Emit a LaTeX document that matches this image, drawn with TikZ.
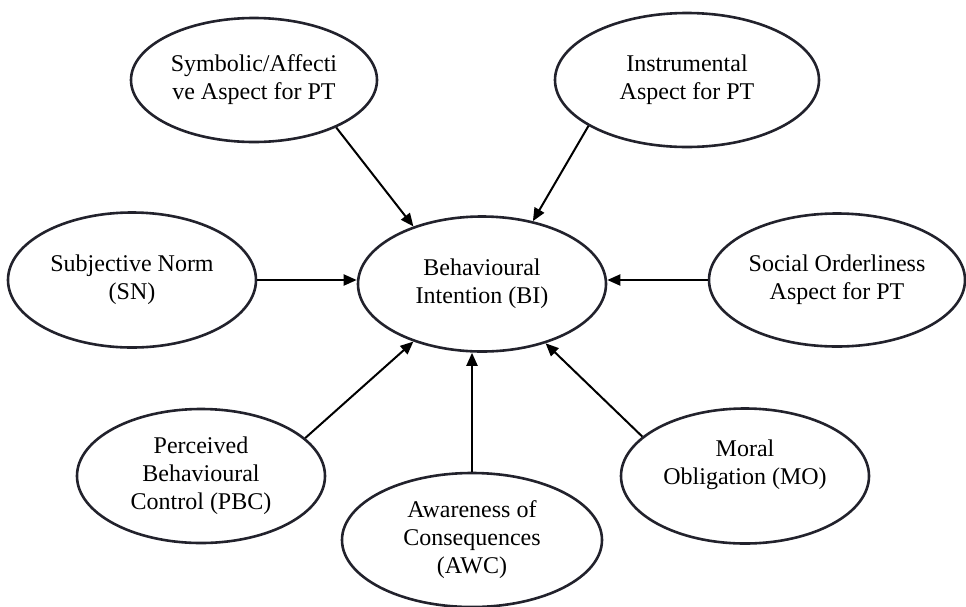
\documentclass[tikz,border=0pt]{standalone}
\usepackage{fontspec}
\setmainfont{Liberation Serif}
\usetikzlibrary{shapes.geometric,arrows.meta}
\definecolor{rim}{RGB}{34,34,44}
\begin{document}
\begin{tikzpicture}[x=1pt,y=-1pt,
  construct/.style={ellipse,draw=rim,line width=2.6pt,inner sep=0pt,
    align=center,font=\fontsize{24}{28}\selectfont},
  link/.style={line width=2pt,-{Triangle[length=13pt,width=11pt]}}]
\useasboundingbox (0,0) rectangle (966,606);

% constructs
\node[construct,minimum width=246pt,minimum height=124pt] (sym) at (254,80)
  {Symbolic/Affecti\\ve Aspect for PT};
\node[construct,minimum width=264pt,minimum height=134pt] (ins) at (687,80)
  {Instrumental\\Aspect for PT};
\node[construct,minimum width=248pt,minimum height=135pt] (sn) at (132,280)
  {Subjective Norm\\(SN)};
\node[construct,minimum width=248pt,minimum height=135pt] (bi) at (482,284)
  {Behavioural\\Intention (BI)};
\node[construct,minimum width=256pt,minimum height=133pt] (soc) at (837,280)
  {Social Orderliness\\Aspect for PT};
\node[construct,minimum width=248pt,minimum height=134pt] (pbc) at (201,476)
  {Perceived\\Behavioural\\Control (PBC)};
\node[construct,minimum width=260pt,minimum height=134pt] (awc) at (472,540)
  {Awareness of\\Consequences\\(AWC)};
\node[construct,minimum width=248pt,minimum height=135pt] (mo) at (745,476)
  {Moral\\Obligation (MO)\\\mbox{}};

% influences on behavioural intention
\draw[link] (sym.-30) -- (bi.140);
\draw[link] (ins.205) -- (bi.51);
\draw[link] (sn.east) -- (sn.east -| bi.west);
\draw[link] (soc.west) -- (soc.west -| bi.east);
\draw[link] (pbc.20) -- (bi.220);
\draw[link] (awc.north) -- (awc.north |- bi.south);
\draw[link] (mo.159) -- (bi.-43);
\end{tikzpicture}
\end{document}
